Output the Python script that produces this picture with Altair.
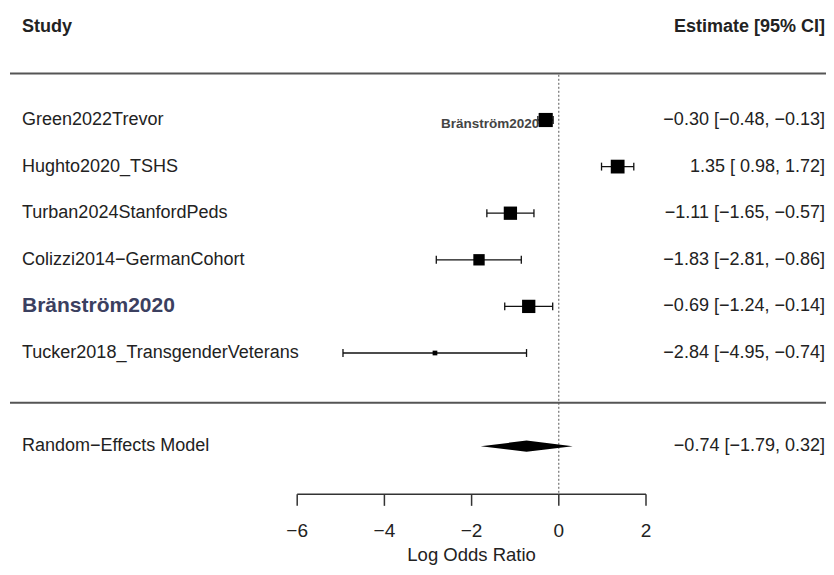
import altair as alt
import pandas as pd

# ---- data ----
studies = ["Green2022Trevor", "Hughto2020_TSHS", "Turban2024StanfordPeds",
           "Colizzi2014\u2212GermanCohort", "Bränström2020", "Tucker2018_TransgenderVeterans"]
estimates = [-0.30, 1.35, -1.11, -1.83, -0.69, -2.84]
ci_lower = [-0.48, 0.98, -1.65, -2.81, -1.24, -4.95]
ci_upper = [-0.13, 1.72, -0.57, -0.86, -0.14, -0.74]
weights = [18.5, 18.2, 17.8, 16.2, 17.8, 10.7]   # random-effects weights (%)

model_label = "Random\u2212Effects Model"
model_est = -0.74
model_lower = -1.79
model_upper = 0.32

axis_ticks = [-6, -4, -2, 0, 2]
axis_title = "Log Odds Ratio"

# ---- layout helpers (page geometry) ----
W, H = 818, 559
XS = 43.6
X0 = 550.8
x_dom = [-X0 / XS, (W - X0) / XS]
YS = 46.6
Y0 = 112.0
y_dom = [-Y0 / YS, (H - Y0) / YS]

xs = alt.Scale(domain=x_dom, range=[0, W], nice=False, zero=False)
ys = alt.Scale(domain=y_dom, range=[0, H], nice=False, zero=False)

FONT = "Liberation Sans"
FS = 18
TXT = "#222"
RIGHT = W - 1


def fmt(v):
    return f"{v:5.2f}".replace("-", "\u2212")


def fmt_est(v):
    return f"{v:.2f}".replace("-", "\u2212")


rows = list(range(len(studies)))
mn, mx = min(weights), max(weights)
psize = [0.5 + (w - mn) / (mx - mn) for w in weights]

df = pd.DataFrame({
    "study": studies, "est": estimates, "lo": ci_lower, "hi": ci_upper,
    "row": rows, "psize": psize,
    "label": [f"{fmt_est(e)} [{fmt(l)}, {fmt(h)}]" for e, l, h in zip(estimates, ci_lower, ci_upper)],
})
df["bold"] = df["study"] == "Bränström2020"

model_row = 7
caph = 0.085

X = lambda f: alt.X(f, type="quantitative", scale=xs, axis=None)
Y = lambda f: alt.Y(f, type="quantitative", scale=ys, axis=None)

base = alt.Chart(df)

ci = base.mark_rule(color="#111", strokeWidth=1.3).encode(x=X("lo"), x2="hi", y=Y("row"))
caps_lo = base.transform_calculate(y1=f"datum.row - {caph}", y2=f"datum.row + {caph}").mark_rule(
    color="#111", strokeWidth=1.3).encode(x=X("lo"), y=Y("y1"), y2="y2")
caps_hi = base.transform_calculate(y1=f"datum.row - {caph}", y2=f"datum.row + {caph}").mark_rule(
    color="#111", strokeWidth=1.3).encode(x=X("hi"), y=Y("y1"), y2="y2")
squares = base.mark_square(color="#000", opacity=1).encode(
    x=X("est"), y=Y("row"),
    size=alt.Size("psize:Q", scale=alt.Scale(type="pow", exponent=2, domain=[0, 1.5], range=[0, 200]), legend=None))

study_text = base.transform_filter("!datum.bold").mark_text(
    align="left", baseline="middle", font=FONT, fontSize=FS, color=TXT).encode(
    x=alt.value(14), y=Y("row"), text="study")
study_bold = base.transform_filter("datum.bold").mark_text(
    align="left", baseline="middle", font=FONT, fontSize=21, fontWeight="bold", color="#3b4060").encode(
    x=alt.value(14), y=Y("row"), text="study")
est_text = base.mark_text(align="right", baseline="middle", font=FONT, fontSize=FS, color=TXT).encode(
    x=alt.value(RIGHT), y=Y("row"), text="label")

# stray overlapping label near the first study
stray = base.transform_filter("datum.bold").transform_calculate(r0="0.09").mark_text(
    align="left", baseline="middle", font=FONT, fontSize=13.5, fontWeight="bold", color="#444").encode(
    x=alt.value(433), y=Y("r0"), text="study")

# model diamond
dh = 0.12
dia_df = pd.DataFrame({
    "x": [model_lower, model_est, model_upper],
    "y1": [model_row, model_row - dh, model_row],
    "y2": [model_row, model_row + dh, model_row],
})
diamond = alt.Chart(dia_df).mark_area(color="#000", orient="vertical").encode(
    x=X("x"), y=Y("y1"), y2="y2")
model_df = pd.DataFrame({"lab": [model_label],
                         "ci": [f"{fmt_est(model_est)} [{fmt(model_lower)}, {fmt(model_upper)}]"],
                         "row": [model_row]})
model_lab = alt.Chart(model_df).mark_text(align="left", baseline="middle", font=FONT,
                                          fontSize=FS, color=TXT).encode(x=alt.value(14), y=Y("row"), text="lab")
model_ci = alt.Chart(model_df).mark_text(align="right", baseline="middle", font=FONT,
                                         fontSize=FS, color=TXT).encode(x=alt.value(RIGHT), y=Y("row"), text="ci")

# headers
hdr_df = pd.DataFrame({"row": [-2.0], "a": ["Study"], "b": ["Estimate [95% CI]"]})
hdr_a = alt.Chart(hdr_df).mark_text(align="left", baseline="middle", font=FONT, fontSize=FS,
                                    fontWeight="bold", color=TXT).encode(x=alt.value(14), y=Y("row"), text="a")
hdr_b = alt.Chart(hdr_df).mark_text(align="right", baseline="middle", font=FONT, fontSize=FS,
                                    fontWeight="bold", color=TXT).encode(x=alt.value(RIGHT), y=Y("row"), text="b")

# horizontal separators
sep_df = pd.DataFrame({"row": [-1.0, 6.07]})
seps = alt.Chart(sep_df).mark_rule(color="#555", strokeWidth=2).encode(
    x=alt.value(2), x2=alt.value(W), y=Y("row"))

# reference line at 0
ref_df = pd.DataFrame({"x": [0], "y1": [-0.97], "y2": [8.03]})
ref = alt.Chart(ref_df).mark_rule(color="#555", strokeDash=[2, 2], strokeWidth=1).encode(
    x=X("x"), y=Y("y1"), y2="y2")

# custom x axis
axis_row = 8.03
ax_df = pd.DataFrame({"t": axis_ticks})
ax_df["row"] = axis_row
ax_df["row2"] = axis_row + 0.25
ax_df["lrow"] = axis_row + 0.78
ax_df["lab"] = [str(t).replace("-", "\u2212") for t in axis_ticks]
ax_line = alt.Chart(pd.DataFrame({"a": [min(axis_ticks)], "b": [max(axis_ticks)], "row": [axis_row]})).mark_rule(
    color="#333", strokeWidth=1.5).encode(x=X("a"), x2="b", y=Y("row"))
ax_ticks = alt.Chart(ax_df).mark_rule(color="#333", strokeWidth=1.5).encode(x=X("t"), y=Y("row"), y2="row2")
ax_labels = alt.Chart(ax_df).mark_text(baseline="middle", align="center", font=FONT, fontSize=19,
                                       color=TXT).encode(x=X("t"), y=Y("lrow"), text="lab")
ax_title = alt.Chart(pd.DataFrame({"x": [(min(axis_ticks) + max(axis_ticks)) / 2],
                                   "row": [axis_row + 1.43], "t": [axis_title]})).mark_text(
    baseline="alphabetic", align="center", font=FONT, fontSize=18.5, color=TXT).encode(
    x=X("x"), y=Y("row"), text="t")

chart = alt.layer(
    seps, ref, ci, caps_lo, caps_hi, squares, stray, study_text, study_bold, est_text,
    diamond, model_lab, model_ci, hdr_a, hdr_b, ax_line, ax_ticks, ax_labels, ax_title
).properties(width=W, height=H, padding=0, autosize=alt.AutoSizeParams(type="none")
).configure_view(stroke=None)

chart.save("out.html", embed_options={"renderer": "svg", "actions": False})
